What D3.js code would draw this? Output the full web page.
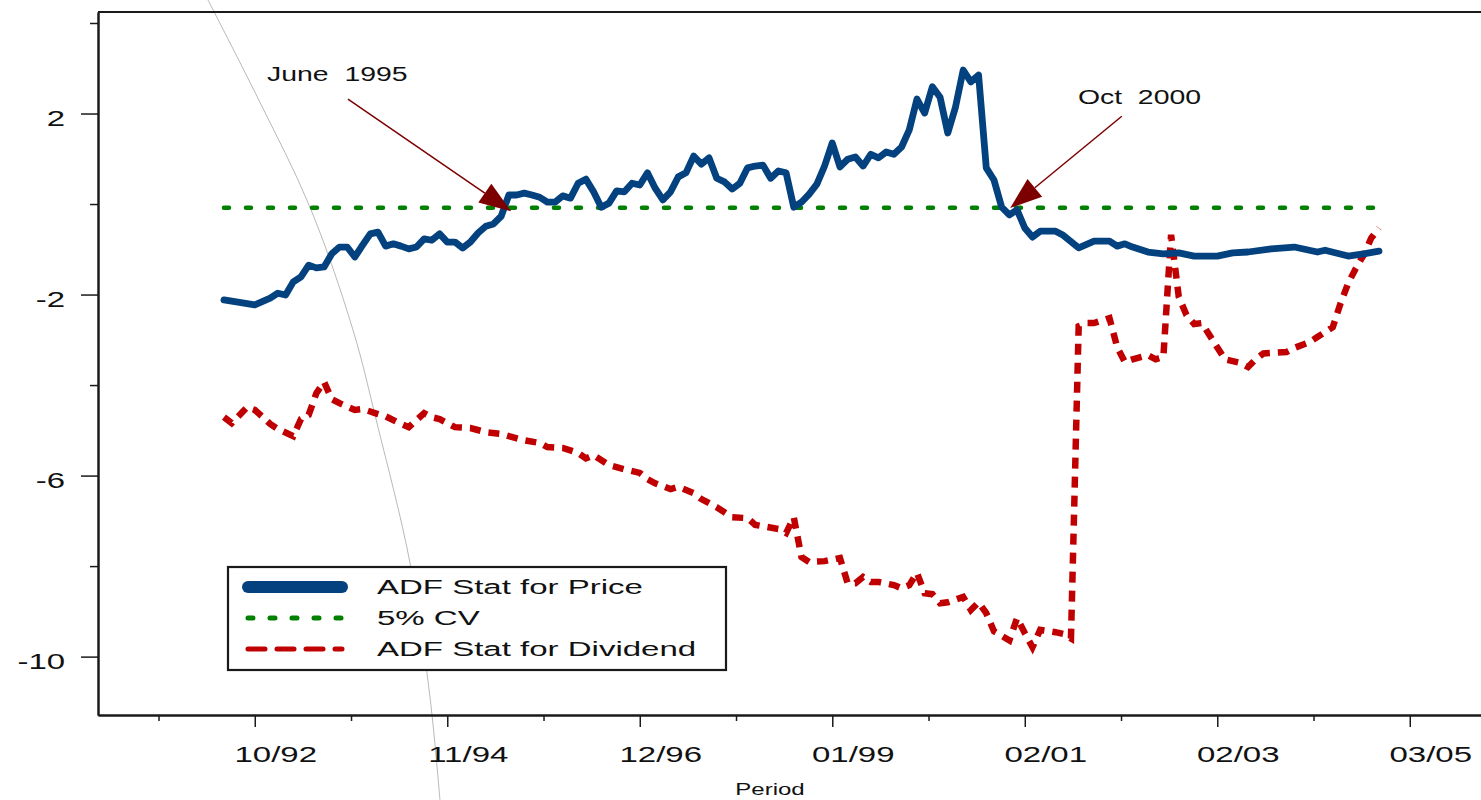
<!DOCTYPE html>
<html>
<head>
<meta charset="utf-8">
<script src="https://cdn.jsdelivr.net/npm/d3@7"></script>
<style>
  body { margin: 0; background: #fff; }
  svg { display: block; }
  text { font-family: "Liberation Sans", Arial, sans-serif; fill: #111; }
</style>
</head>
<body>
<div id="chart"></div>
<script>
// months counted from the first observation (06/92 = 0)
const priceMonth = [0,4,6,7,8,9,10,11,12,13,14,15,16,17,18,19,20,21,22,23,24,25,26,27,28,29,30,31,32,33,34,35,36,37,38,39,40,41,42,43,44,45,46,47,48,49,50,51,52,53,54,55,56,57,58,59,60,61,62,63,64,65,66,67,68,69,70,71,72,73,74,75,76,77,78,79,80,81,82,83,84,85,86,87,88,89,90,91,92,93,94,95,96,97,98,99,100,101,102,103,104,105,106,108,109,111,113,115,116,117,118,120,122,124,126,129,131,133,136,139,142,143,146,148,150];
const priceStat = [-2.12,-2.23,-2.08,-1.97,-2.01,-1.72,-1.61,-1.35,-1.41,-1.39,-1.10,-0.95,-0.95,-1.17,-0.91,-0.66,-0.62,-0.93,-0.88,-0.93,-0.99,-0.95,-0.77,-0.80,-0.66,-0.84,-0.84,-0.97,-0.84,-0.64,-0.49,-0.44,-0.27,0.20,0.20,0.24,0.20,0.15,0.04,0.04,0.18,0.13,0.46,0.55,0.27,-0.07,0.02,0.29,0.27,0.46,0.42,0.69,0.35,0.09,0.27,0.60,0.69,1.06,0.88,1.02,0.57,0.49,0.33,0.46,0.80,0.84,0.86,0.57,0.73,0.69,-0.07,0.04,0.22,0.44,0.84,1.35,0.82,0.99,1.04,0.84,1.10,1.02,1.15,1.10,1.26,1.64,2.32,2.01,2.59,2.36,1.57,2.14,2.96,2.70,2.85,0.80,0.53,-0.07,-0.24,-0.13,-0.53,-0.73,-0.60,-0.60,-0.69,-0.97,-0.82,-0.82,-0.93,-0.88,-0.95,-1.06,-1.10,-1.08,-1.15,-1.15,-1.08,-1.06,-0.99,-0.95,-1.06,-1.02,-1.15,-1.10,-1.04];

const divMonth = [0,1,3,4,5,6,7,9,10,11,12,13,14,15,17,18,20,21,23,24,26,27,28,30,32,34,36,37,39,41,42,44,46,47,48,50,52,54,55,56,58,59,61,62,64,65,66,68,69,70,72,73,74,75,76,78,80,81,82,83,84,85,87,88,89,90,91,92,93,94,96,97,98,99,100,102,103,104,105,106,108,109,110,111,112,113,115,116,117,118,120,121,122,123,124,125,126,127,128,130,132,133,134,135,138,139,141,142,144,145,146,147,148,149,150];
const divStat = [-4.71,-4.84,-4.49,-4.55,-4.70,-4.86,-4.97,-5.13,-4.75,-4.66,-4.18,-3.93,-4.31,-4.40,-4.55,-4.53,-4.64,-4.69,-4.86,-4.93,-4.62,-4.71,-4.75,-4.93,-4.95,-5.04,-5.08,-5.13,-5.22,-5.28,-5.37,-5.39,-5.50,-5.62,-5.55,-5.77,-5.86,-5.94,-6.08,-6.17,-6.30,-6.25,-6.39,-6.52,-6.70,-6.81,-6.92,-6.94,-7.09,-7.12,-7.18,-7.27,-6.92,-7.80,-7.91,-7.89,-7.82,-8.38,-8.38,-8.24,-8.35,-8.35,-8.42,-8.49,-8.42,-8.15,-8.60,-8.62,-8.82,-8.80,-8.68,-8.97,-8.80,-9.04,-9.44,-9.64,-9.15,-9.48,-9.79,-9.41,-9.46,-9.50,-9.60,-2.70,-2.63,-2.63,-2.52,-3.16,-3.49,-3.43,-3.34,-3.43,-3.38,-0.68,-2.05,-2.45,-2.65,-2.63,-2.90,-3.43,-3.51,-3.60,-3.43,-3.30,-3.27,-3.18,-3.05,-2.94,-2.72,-2.20,-1.75,-1.42,-1.13,-0.75,-0.53];

const cvValue = -0.08;
const cvMonths = [0, 150];

const seriesNames = ["ADF Stat for Price", "5% CV", "ADF Stat for Dividend"];

const xTickMonths = [4, 29, 54, 79, 104, 129, 154];
const xMinorMonths = [-8.5, 16.5, 41.5, 66.5, 91.5, 116.5, 141.5];
const xTickLabels = ["10/92", "11/94", "12/96", "01/99", "02/01", "02/03", "03/05"];
const yTickValues = [2, -2, -6, -10];
const yMinorValues = [4, 0, -4, -8];

const noteText = ["June  1995", "Oct  2000"];
const noteLabelAt = [[5.6, 2.71], [110.9, 2.21]];
const noteTail = [[16.1, 2.32], [116.6, 1.94]];
const noteTip = [[37.3, -0.16], [102.1, -0.09]];

// faint stray arc that sits on the original figure
const strayMonth = [-2.08, 4.52, 11.17, 16.75, 19.87, 24.16, 26.75, 28.05];
const strayValue = [4.51, 2.30, -0.07, -2.78, -4.84, -7.93, -10.89, -13.17];

const width = 1481, height = 800;
const margin = { top: 12, right: 0, bottom: 85, left: 98 };
const innerWidth = width - margin.left - margin.right;
const innerHeight = height - margin.top - margin.bottom;

const BLUE = "#03427f", GREEN = "#008000", RED = "#c00000", ARROW = "#7d0000", INK = "#1a1a1a";

const svg = d3.select("#chart").append("svg")
  .attr("width", width).attr("height", height);
const g = svg.append("g")
  .attr("transform", "translate(" + margin.left + "," + margin.top + ")");

// scales map straight to page pixels so texts can sit on the svg root
const x = d3.scaleLinear().domain([-16.36, 163.25]).range([margin.left, margin.left + innerWidth]);
const y = d3.scaleLinear().domain([-11.29, 4.243]).range([margin.top + innerHeight, margin.top]);
const xi = v => x(v) - margin.left;
const yi = v => y(v) - margin.top;
const xIn = x.copy().range([0, innerWidth]);
const yIn = y.copy().range([innerHeight, 0]);

// the original's lettering is stretched sideways; widen glyphs with textLength
function stretched(px, py, str, size, sx, anchor) {
  const t = svg.append("text")
    .attr("x", px).attr("y", py)
    .attr("text-anchor", anchor || "start")
    .style("font-size", size + "px")
    .style("white-space", "pre")
    .text(str);
  const natural = t.node().getComputedTextLength();
  t.attr("textLength", natural * sx).attr("lengthAdjust", "spacingAndGlyphs");
  return t;
}

// stray arc (drawn first, under everything)
g.append("path")
  .datum(d3.zip(strayMonth, strayValue))
  .attr("fill", "none")
  .attr("stroke", "#9a9a9a")
  .attr("stroke-width", 0.7)
  .attr("d", d3.line().x(d => xi(d[0])).y(d => yi(d[1])).curve(d3.curveCatmullRom));

// axes
function styleAxis(sel) {
  sel.select(".domain").attr("stroke", INK).attr("stroke-width", 2);
  sel.selectAll(".tick line").attr("stroke", INK).attr("stroke-width", 1.5);
  sel.selectAll(".tick text").remove();
}
g.append("g").call(d3.axisLeft(yIn).tickValues(yTickValues).tickSize(17).tickSizeOuter(0)).call(styleAxis);
g.append("g").call(d3.axisLeft(yIn).tickValues(yMinorValues).tickSize(8).tickSizeOuter(0)).call(styleAxis);
g.append("g").attr("transform", "translate(0," + innerHeight + ")")
  .call(d3.axisBottom(xIn).tickValues(xTickMonths).tickSize(12).tickSizeOuter(0)).call(styleAxis);
g.append("g").attr("transform", "translate(0," + innerHeight + ")")
  .call(d3.axisBottom(xIn).tickValues(xMinorMonths).tickSize(6).tickSizeOuter(0)).call(styleAxis);
g.append("line")
  .attr("x1", 0).attr("x2", innerWidth).attr("y1", 0).attr("y2", 0)
  .attr("stroke", INK).attr("stroke-width", 2);

yTickValues.forEach(v => {
  stretched(margin.left - 33, y(v) + 12, String(v), 21.5, 1.53, "end");
});
xTickMonths.forEach((m, i) => {
  stretched(x(m) + 21, margin.top + innerHeight + 47, xTickLabels[i], 22, 1.5, "middle");
});
stretched(770, 795, "Period", 16, 1.5, "middle");

// series
const line = d3.line().x(d => xi(d[0])).y(d => yi(d[1]));

g.append("path")
  .datum(d3.zip(divMonth, divStat))
  .attr("fill", "none")
  .attr("stroke", RED)
  .attr("stroke-width", 6.5)
  .attr("stroke-dasharray", "11,8")
  .attr("d", line);

g.append("path")
  .datum(cvMonths.map(m => [m, cvValue]))
  .attr("fill", "none")
  .attr("stroke", GREEN)
  .attr("stroke-width", 4.5)
  .attr("stroke-linecap", "round")
  .attr("stroke-dasharray", "5,17")
  .attr("d", line);

g.append("path")
  .datum(d3.zip(priceMonth, priceStat))
  .attr("fill", "none")
  .attr("stroke", BLUE)
  .attr("stroke-width", 6.8)
  .attr("stroke-linejoin", "round")
  .attr("stroke-linecap", "round")
  .attr("d", line);

// annotations
noteText.forEach((t, i) => {
  const tx = x(noteTip[i][0]), ty = y(noteTip[i][1]);
  const sx = x(noteTail[i][0]), sy = y(noteTail[i][1]);
  const len = Math.hypot(tx - sx, ty - sy);
  const ux = (tx - sx) / len, uy = (ty - sy) / len;
  const headLen = 32, headW = 11.5;
  const bx = tx - ux * headLen, by = ty - uy * headLen;
  svg.append("line")
    .attr("x1", sx).attr("y1", sy).attr("x2", bx).attr("y2", by)
    .attr("stroke", ARROW).attr("stroke-width", 1.5);
  svg.append("path")
    .attr("d", "M" + tx + "," + ty +
      "L" + (bx - uy * headW) + "," + (by + ux * headW) +
      "L" + (bx + uy * headW) + "," + (by - ux * headW) + "Z")
    .attr("fill", ARROW);
  stretched(x(noteLabelAt[i][0]), y(noteLabelAt[i][1]), t, 20, 1.42, "start");
});

// legend
const lgX = 228, lgY = 567;
svg.append("rect")
  .attr("x", lgX).attr("y", lgY)
  .attr("width", 498).attr("height", 103)
  .attr("fill", "#fff").attr("stroke", INK).attr("stroke-width", 2.2);

const legendStyles = [
  { stroke: BLUE, w: 12, dash: null, cap: "round" },
  { stroke: GREEN, w: 5, dash: "5,17", cap: "round" },
  { stroke: RED, w: 5, dash: "17,12", cap: "round" }
];
seriesNames.forEach((name, i) => {
  const rowY = lgY + 20 + i * 31;
  const s = legendStyles[i];
  svg.append("line")
    .attr("x1", lgX + 20).attr("x2", lgX + 114).attr("y1", rowY).attr("y2", rowY)
    .attr("stroke", s.stroke).attr("stroke-width", s.w)
    .attr("stroke-linecap", s.cap)
    .attr("stroke-dasharray", s.dash);
  stretched(lgX + 149, rowY + 7, name, 20, 1.65, "start");
});
</script>
</body>
</html>
